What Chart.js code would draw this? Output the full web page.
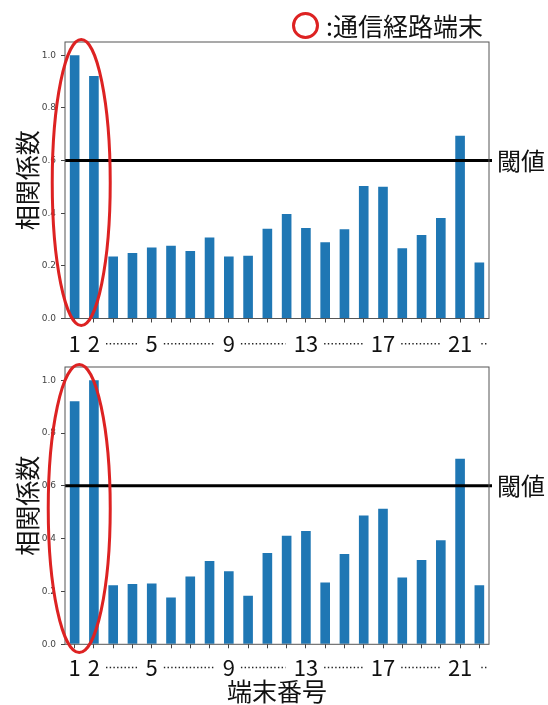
<!DOCTYPE html>
<html lang="ja">
<head>
<meta charset="utf-8">
<script src="https://cdn.jsdelivr.net/npm/chart.js@4.4.1/dist/chart.umd.min.js"></script>
<style>
  html, body { margin: 0; padding: 0; background: #fff; }
  body { width: 548px; height: 705px; position: relative; overflow: hidden; font-family: "Noto Sans CJK JP", sans-serif; }
  .box { position: absolute; left: 0; width: 548px; }
  #topBox { top: 0; height: 352px; }
  #bottomBox { top: 352px; height: 353px; }
  .legend { position: absolute; top: 11px; left: 292px; height: 28px; display: flex; align-items: center; z-index: 2; }
  .legend .ring { width: 21px; height: 21px; border: 3px solid #dd2222; border-radius: 50%; }
  .legend span { font-size: 25px; line-height: 28px; margin-left: 7px; color: #111; }
</style>
</head>
<body>
<div class="legend"><div class="ring"></div><span>:通信経路端末</span></div>
<div class="box" id="topBox"><canvas id="topChart"></canvas></div>
<div class="box" id="bottomBox"><canvas id="bottomChart"></canvas></div>
<script>
// terminal numbers on the x axis, only some of them get a label
const TERMINALS = ["1", "2", "3", "4", "5", "6", "7", "8", "9", "10", "11",
  "12", "13", "14", "15", "16", "17", "18", "19", "20", "21", "22"];
const LABELED = ["1", "2", "5", "9", "13", "17", "21"];
const Y_TICKS = [0, 0.2, 0.4, 0.6, 0.8, 1.0];
const Y_MAX = 1.05;
const THRESHOLD = 0.6;

// correlation coefficients
const corrTop = [1.0, 0.921, 0.235, 0.249, 0.270, 0.276, 0.256, 0.308, 0.235, 0.238, 0.341,
  0.397, 0.344, 0.290, 0.339, 0.503, 0.500, 0.267, 0.317, 0.382, 0.694, 0.213];
const corrBottom = [0.92, 1.0, 0.224, 0.228, 0.230, 0.177, 0.257, 0.315, 0.277, 0.184, 0.346,
  0.411, 0.429, 0.234, 0.342, 0.488, 0.513, 0.253, 0.319, 0.394, 0.703, 0.224];

const CJK = '"Noto Sans CJK JP"';
const TICK_FONT = { family: CJK, size: 22 };
const TICK_LEN = 4;

// threshold line, frame, red ellipse, dotted gaps between labels
const decor = {
  id: "decor",
  afterDatasetsDraw(chart) {
    const { ctx, chartArea: a, scales: { y } } = chart;
    const yy = y.getPixelForValue(THRESHOLD);
    ctx.save();
    ctx.strokeStyle = "#000";
    ctx.lineWidth = 3;
    ctx.beginPath();
    ctx.moveTo(a.left, yy);
    ctx.lineTo(a.right + 3, yy);
    ctx.stroke();
    ctx.restore();
  },
  afterDraw(chart, args, opts) {
    const { ctx, chartArea: a, scales: { x, y } } = chart;
    ctx.save();

    // axes frame
    ctx.strokeStyle = "#555";
    ctx.lineWidth = 1;
    ctx.strokeRect(a.left, a.top, a.right - a.left, a.bottom - a.top);

    // label for the threshold
    const yy = y.getPixelForValue(THRESHOLD);
    ctx.fillStyle = "#111";
    ctx.font = `24px ${CJK}`;
    ctx.textBaseline = "middle";
    ctx.textAlign = "left";
    ctx.fillText("閾値", a.right + 8, yy);

    // dotted runs between the labelled terminals
    ctx.font = `${TICK_FONT.size}px ${TICK_FONT.family}`;
    const dotY = x.top + TICK_LEN + opts.tickPad + TICK_FONT.size * 1.2 / 2;
    const idx = LABELED.map((l) => TERMINALS.indexOf(l));
    const half = (i) => ctx.measureText(TERMINALS[i]).width / 2;
    ctx.strokeStyle = "#222";
    ctx.lineWidth = 1.4;
    ctx.setLineDash([1.4, 2.3]);
    const run = (x1, x2) => {
      ctx.beginPath();
      ctx.moveTo(x1, dotY);
      ctx.lineTo(x2, dotY);
      ctx.stroke();
    };
    for (let k = 0; k < idx.length - 1; k++) {
      if (idx[k + 1] - idx[k] < 2) continue;
      const x1 = x.getPixelForValue(idx[k]) + half(idx[k]) + 6;
      const x2 = x.getPixelForValue(idx[k + 1]) - half(idx[k + 1]) - 8;
      run(x1, x2);
    }
    const last = idx[idx.length - 1];
    run(x.getPixelForValue(last) + half(last) + 9, a.right - 1);
    ctx.setLineDash([]);

    // red ellipse round the two route terminals
    const e = opts.ellipse;
    const top = a.top - e.above;
    const bottom = a.bottom + e.below;
    ctx.strokeStyle = "#dd2222";
    ctx.lineWidth = 3;
    ctx.beginPath();
    ctx.ellipse(x.getPixelForValue(0) + e.dx, (top + bottom) / 2, e.rx, (bottom - top) / 2, 0, 0, Math.PI * 2);
    ctx.stroke();

    ctx.restore();
  },
};

function makeChart(canvasId, values, cfg) {
  return new Chart(document.getElementById(canvasId), {
    type: "bar",
    data: {
      labels: TERMINALS,
      datasets: [
        {
          data: values,
          backgroundColor: "#1f77b4",
          barPercentage: 0.5,
          categoryPercentage: 1.0,
        },
      ],
    },
    options: {
      responsive: true,
      maintainAspectRatio: false,
      animation: false,
      events: [],
      layout: { padding: { top: cfg.padTop, right: 59, left: 0, bottom: 0 } },
      plugins: {
        legend: { display: false },
        tooltip: { enabled: false },
        decor: { tickPad: cfg.tickPad, ellipse: cfg.ellipse },
      },
      scales: {
        x: {
          grid: { drawOnChartArea: false, offset: false, tickLength: TICK_LEN, tickColor: "#444" },
          border: { display: false },
          ticks: {
            autoSkip: false,
            maxRotation: 0,
            padding: cfg.tickPad,
            color: "#111",
            font: TICK_FONT,
            callback: (v, i) => (LABELED.includes(TERMINALS[i]) ? TERMINALS[i] : ""),
          },
          title: cfg.xTitle
            ? {
                display: true,
                text: cfg.xTitle,
                color: "#111",
                font: { family: CJK, size: 25, lineHeight: 1.1 },
                padding: { top: 0, bottom: 0 },
              }
            : { display: false },
          afterFit: (s) => {
            s.height = cfg.xHeight;
          },
        },
        y: {
          min: 0,
          max: Y_MAX,
          afterBuildTicks: (s) => {
            s.ticks = Y_TICKS.map((v) => ({ value: v }));
          },
          grid: { drawOnChartArea: false, tickLength: TICK_LEN, tickColor: "#444" },
          border: { display: false },
          ticks: {
            padding: 5,
            color: "#444",
            font: { family: "DejaVu Sans", size: 9 },
            callback: (v) => Number(v).toFixed(1),
          },
          title: {
            display: true,
            text: "相関係数",
            color: "#111",
            font: { family: CJK, size: 25 },
            padding: { top: 12, bottom: 0 },
          },
          afterFit: (s) => {
            s.width = 65;
          },
        },
      },
    },
    plugins: [decor],
  });
}

makeChart("topChart", corrTop, {
  padTop: 42,
  xHeight: 33.5,
  tickPad: 8,
  ellipse: { dx: 6.6, rx: 29, above: 2.5, below: 7 },
});

makeChart("bottomChart", corrBottom, {
  padTop: 15,
  xHeight: 60.7,
  tickPad: 6,
  xTitle: "端末番号",
  ellipse: { dx: 4.6, rx: 31, above: 2.5, below: 8.2 },
});
</script>
</body>
</html>
